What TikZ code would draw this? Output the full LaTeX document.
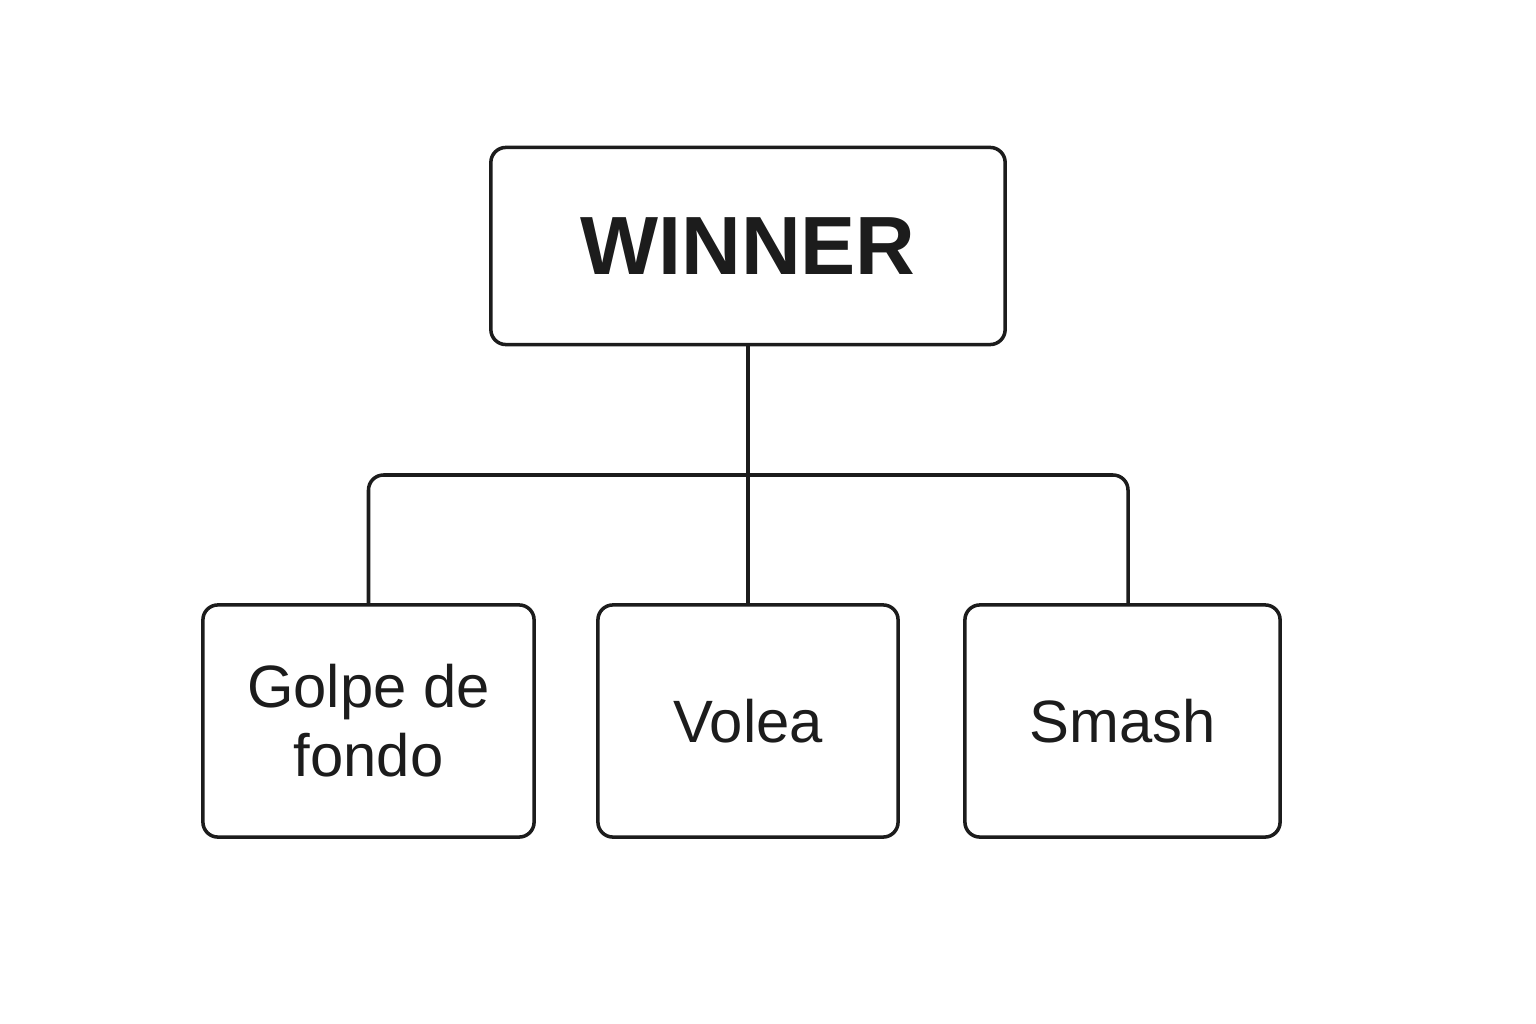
\documentclass[tikz,border=0pt]{standalone}
\usepackage{fontspec}
\setmainfont{Liberation Sans}
\definecolor{ink}{HTML}{1C1C1C}
\tikzset{
  box/.style={draw=ink, text=ink, line width=1pt, rounded corners=0.15cm, align=center, inner sep=0pt, minimum height=2.32cm},
  link/.style={draw=ink, line width=1pt, rounded corners=0.15cm},
}
\begin{document}
\begin{tikzpicture}[x=0.01cm, y=-0.01cm]
    \useasboundingbox (0,0) rectangle (1536,1024);
    % top box
    \node[box, minimum width=5.14cm, minimum height=1.97cm, font=\fontsize{23.5}{28}\selectfont\bfseries] (winner) at (748,246) {WINNER};
    % strokes
    \node[box, minimum width=3.31cm, font=\fontsize{17}{19.6}\selectfont] (golpe) at (368.5,721) {Golpe de\\fondo};
    \node[box, minimum width=3.00cm, font=\fontsize{17}{19.6}\selectfont] (volea) at (748,721) {Volea};
    \node[box, minimum width=3.15cm, font=\fontsize{17}{19.6}\selectfont] (smash) at (1122.5,721) {Smash};
    % connectors
    \coordinate (bar) at (748,475);
    \draw[link] (winner.south) -- (volea.north);
    \draw[link] (golpe.north) |- (bar) -| ([xshift=0.055cm]smash.north);
\end{tikzpicture}
\end{document}
